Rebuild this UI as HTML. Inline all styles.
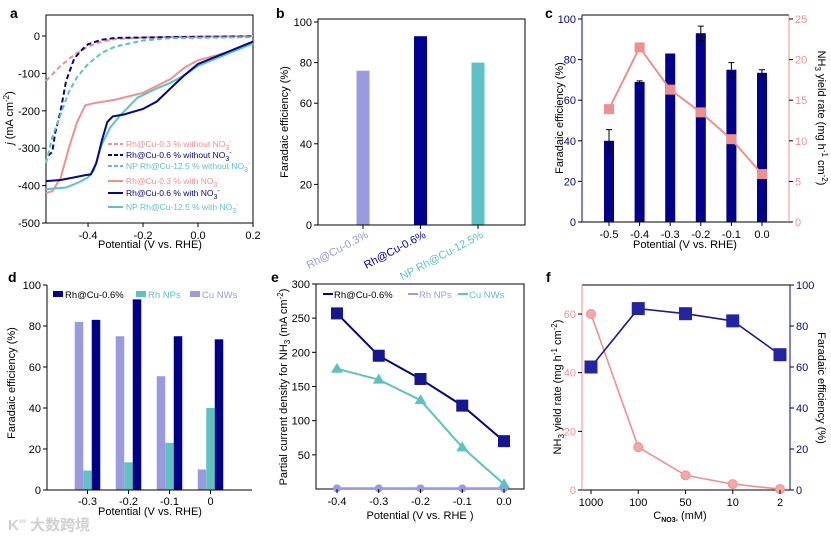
<!DOCTYPE html>
<html><head><meta charset="utf-8">
<style>
html,body{margin:0;padding:0;background:#fff;}
svg{display:block;font-family:"Liberation Sans","Noto Sans CJK SC",sans-serif;}
</style></head>
<body>
<svg id="fig" width="831" height="542" viewBox="0 0 831 542" xmlns="http://www.w3.org/2000/svg"></svg>
<script>
// ---------- data ----------
// panel a (LSV curves): potential (V) and current density (mA cm-2)
const aPinkDashV=[-0.553,-0.5,-0.45,-0.4,-0.35,-0.3,-0.2,0,0.2];
const aPinkDashJ=[-120,-80,-50,-28,-15,-8,-4,-2,0];
const aNavyDashV=[-0.545,-0.53,-0.52,-0.5,-0.48,-0.45,-0.42,-0.4,-0.35,-0.3,0,0.2];
const aNavyDashJ=[-320,-310,-260,-200,-120,-60,-35,-22,-10,-5,-2,-1];
const aTealDashV=[-0.553,-0.53,-0.5,-0.47,-0.44,-0.4,-0.35,-0.3,-0.2,-0.1,0.2];
const aTealDashJ=[-340,-270,-210,-150,-110,-75,-45,-28,-12,-6,-3];
const aPinkV=[-0.553,-0.53,-0.5,-0.47,-0.44,-0.41,-0.38,-0.3,-0.2,-0.1,-0.05,0,0.1,0.2];
const aPinkJ=[-420,-415,-380,-300,-230,-185,-180,-170,-152,-115,-85,-65,-45,-20];
const aNavyV=[-0.553,-0.5,-0.45,-0.41,-0.39,-0.37,-0.35,-0.33,-0.31,-0.27,-0.2,-0.15,-0.1,-0.05,0,0.1,0.2];
const aNavyJ=[-388,-385,-378,-372,-370,-340,-280,-230,-215,-210,-195,-175,-140,-105,-75,-45,-15];
const aTealV=[-0.553,-0.48,-0.43,-0.4,-0.38,-0.35,-0.32,-0.28,-0.22,-0.15,-0.1,-0.05,0,0.1,0.2];
const aTealJ=[-410,-405,-390,-378,-360,-290,-245,-210,-165,-140,-125,-105,-80,-50,-20];
const aXTicks=[-0.4,-0.2,0.0,0.2];
const aXLabels=["-0.4","-0.2","0.0","0.2"];
const aYTicks=[0,-100,-200,-300,-400,-500];
// panel b
const bCats=["Rh@Cu-0.3%","Rh@Cu-0.6%","NP Rh@Cu-12.5%"];
const bFE=[76,93,80];
// panel c
const cPot=[-0.5,-0.4,-0.3,-0.2,-0.1,0.0];
const cPotLabels=["-0.5","-0.4","-0.3","-0.2","-0.1","0.0"];
const cFE=[40,69,83,93,75,73.5];
const cFEErr=[5.5,0.5,0,3.5,3.5,1.5];
const cYield=[13.9,21.5,16.3,13.5,10.2,5.9];
// panel d
const dPot=["-0.3","-0.2","-0.1","0"];
const dCuNW=[82,75,55.5,10];
const dRhNP=[9.5,13.5,23,40];
const dRhCu=[83,93,75,73.5];
// panel e
const ePot=[-0.4,-0.3,-0.2,-0.1,0.0];
const ePotLabels=["-0.4","-0.3","-0.2","-0.1","0.0"];
const eRhCu=[257,195,161,122,70];
const eRhNP=[1,1,1,1,1];
const eCuNW=[176,160,130,61,7];
// panel f
const fConc=["1000","100","50","10","2"];
const fYield=[60,14.6,5,2,0.3];
const fFE=[60,88.5,86,82.5,66];

// ---------- helpers ----------
const NS='http://www.w3.org/2000/svg';
const svg=document.getElementById('fig');
const NAVY='#08087e',PINK='#ee9090',TEAL='#5ec2c2',LAV='#9a9ade';
function mk(tag,a,parent){const e=document.createElementNS(NS,tag);for(const k in a)e.setAttribute(k,a[k]);(parent||svg).appendChild(e);return e;}
function txt(x,y,s,a,parent){const e=mk('text',Object.assign({x:x,y:y,'font-size':11},a||{}),parent);e.innerHTML=s;return e;}
function lin(d0,d1,r0,r1){return v=>r0+(v-d0)/(d1-d0)*(r1-r0);}
function frame(g,L,T,R,B){const r=mk('rect',{x:L,y:T,width:R-L,height:B-T,fill:'none',stroke:'#000','stroke-width':1},g);}
function yTicks(g,x,sy,vals,labels,color,side){
  vals.forEach((v,i)=>{const y=sy(v);
    const t=mk('line',{x1:x,x2:x+(side<0?-4:4),y1:y,y2:y,stroke:'#000'},g);
    
    const l=txt(x+(side<0?-6:6),y+4,labels[i],{'text-anchor':side<0?'end':'start',fill:color},g);
    });
}
function xTicks(g,y,sx,vals,labels){
  vals.forEach((v,i)=>{const x=sx(v);
    const t=mk('line',{x1:x,x2:x,y1:y,y2:y+4,stroke:'#000'},g);
    
    if(labels){const l=txt(x,y+16,labels[i],{'text-anchor':'middle'},g);
    }});
}
function title(g,x,y,s,rot,extra){const e=txt(x,y,s,Object.assign({'text-anchor':'middle'},extra||{}),g);if(rot)e.setAttribute('transform','rotate('+rot+' '+x+' '+y+')');return e;}
function path(g,xs,ys,sx,sy,a){let d='';xs.forEach((v,i)=>{d+=(i?'L':'M')+sx(v).toFixed(1)+' '+sy(ys[i]).toFixed(1);});return mk('path',Object.assign({d:d,fill:'none'},a),g);}
function panelLetter(x,y,s){const e=txt(x,y,s,{'font-size':14,'font-weight':'bold'});}

// ---------- panel a ----------
(function(){
  const g=mk('g',{});
  const L=46,R=253,T=15,B=223;
  const sx=lin(-0.553,0.2,L,R), sy=lin(0,-500,36,B);
  frame(g,L,T,R,B);
  const series=[[aPinkDashV,aPinkDashJ,PINK,true,'rh-cu-0.3-without'],[aNavyDashV,aNavyDashJ,NAVY,true,'rh-cu-0.6-without'],[aTealDashV,aTealDashJ,TEAL,true,'np-rh-cu-12.5-without'],
    [aPinkV,aPinkJ,PINK,false,'rh-cu-0.3-with'],[aTealV,aTealJ,TEAL,false,'np-rh-cu-12.5-with'],[aNavyV,aNavyJ,NAVY,false,'rh-cu-0.6-with']];
  series.forEach(s=>{const p=path(g,s[0],s[1],sx,sy,{stroke:s[2],'stroke-width':2,'stroke-dasharray':s[3]?'5,3':'none'});
    });
  yTicks(g,L,sy,aYTicks,aYTicks.map(String),'#000',-1);
  xTicks(g,B,sx,aXTicks,aXLabels);
  const xt=title(g,150,248,'Potential (V vs. RHE)');
  const yt=title(g,13,118,'<tspan font-style="italic">j</tspan> (mA cm<tspan dy="-4" font-size="8">-2</tspan><tspan dy="4">)</tspan>',-90);
  const leg=[['Rh@Cu-0.3 % without NO<tspan dy="3" font-size="7">3</tspan><tspan dy="-6" font-size="7">-</tspan>',PINK,true],['Rh@Cu-0.6 % without NO<tspan dy="3" font-size="7">3</tspan><tspan dy="-6" font-size="7">-</tspan>',NAVY,true],['NP Rh@Cu-12.5 % without NO<tspan dy="3" font-size="7">3</tspan><tspan dy="-6" font-size="7">-</tspan>',TEAL,true],
    ['Rh@Cu-0.3 % with NO<tspan dy="3" font-size="7">3</tspan><tspan dy="-6" font-size="7">-</tspan>',PINK,false],['Rh@Cu-0.6 % with NO<tspan dy="3" font-size="7">3</tspan><tspan dy="-6" font-size="7">-</tspan>',NAVY,false],['NP Rh@Cu-12.5 % with NO<tspan dy="3" font-size="7">3</tspan><tspan dy="-6" font-size="7">-</tspan>',TEAL,false]];
  const ly=[144,155,166,181,193,207];
  leg.forEach((e,i)=>{const l=mk('line',{x1:108,x2:123,y1:ly[i],y2:ly[i],stroke:e[1],'stroke-width':2,'stroke-dasharray':e[2]?'4,2':'none'},g);
    
    const t=txt(126,ly[i]+3,e[0],{'font-size':8.5,fill:e[1]},g);});
})();
panelLetter(10,18,'a');

// ---------- panel b ----------
(function(){
  const g=mk('g',{});
  const L=318,R=525,T=19,B=225;
  const sy=lin(0,100,B,22);
  const sx=i=>363+i*57.5;
  const cols=[LAV,'#000090',TEAL];
  bFE.forEach((v,i)=>{const r=mk('rect',{x:sx(i)-6.5,y:sy(v),width:13,height:B-sy(v),fill:cols[i]},g);});
  frame(g,L,T,R,B);
  const yv=[0,20,40,60,80,100];yTicks(g,L,sy,yv,yv.map(String),'#000',-1);
  bCats.forEach((c,i)=>{const x=sx(i);const t=mk('line',{x1:x,x2:x,y1:B,y2:B+4,stroke:'#000'},g);
    const l=txt(x+6,237,c,{'text-anchor':'end',fill:cols[i],transform:'rotate(-28 '+(x+6)+' 237)'},g);});
  const yt=title(g,288,122,'Faradaic efficiency (%)',-90);
})();
panelLetter(276,18,'b');

// ---------- panel c ----------
(function(){
  const g=mk('g',{});
  const L=582,R=789,T=15,B=222;
  const sx=lin(-0.5,0,609,762), sy=lin(0,100,B,19), sy2=lin(0,25,B,19);
  cPot.forEach((p,i)=>{const x=sx(p);const r=mk('rect',{x:x-5,y:sy(cFE[i]),width:10,height:B-sy(cFE[i]),fill:'#000088'},g);
    if(cFEErr[i]>0){const e=mk('path',{d:'M'+x+' '+sy(cFE[i]-cFEErr[i])+'V'+sy(cFE[i]+cFEErr[i])+'M'+(x-3)+' '+sy(cFE[i]+cFEErr[i])+'H'+(x+3)+'M'+(x-3)+' '+sy(cFE[i]-cFEErr[i])+'H'+(x+3),stroke:'#000',fill:'none'},g);}});
  const ln=path(g,cPot,cYield,sx,sy2,{stroke:PINK,'stroke-width':2});
  cPot.forEach((p,i)=>{const m=mk('rect',{x:sx(p)-5,y:sy2(cYield[i])-5,width:10,height:10,fill:PINK},g);});
  mk('line',{x1:L,x2:R,y1:T,y2:T,stroke:'#000'},g);mk('line',{x1:L,x2:R,y1:B,y2:B,stroke:'#000'},g);
  mk('line',{x1:L,x2:L,y1:T,y2:B,stroke:NAVY},g);mk('line',{x1:R,x2:R,y1:T,y2:B,stroke:PINK},g);
  const yv=[0,20,40,60,80,100];yTicks(g,L,sy,yv,yv.map(String),NAVY,-1);
  const yv2=[0,5,10,15,20,25];yTicks(g,R,sy2,yv2,yv2.map(String),PINK,1);
  xTicks(g,B,sx,cPot,cPotLabels);
  const xt=title(g,685,248,'Potential (V vs. RHE)');
  const yt=title(g,563,118,'Faradaic efficiency (%)',-90);
  const yt2=title(g,818,118,'NH<tspan dy="3" font-size="8">3</tspan><tspan dy="-3"> yield rate (mg h</tspan><tspan dy="-4" font-size="8">-1</tspan><tspan dy="4"> cm</tspan><tspan dy="-4" font-size="8">-2</tspan><tspan dy="4">)</tspan>',90);
})();
panelLetter(545,18,'c');

// ---------- panel d ----------
(function(){
  const g=mk('g',{});
  const L=47,R=252,T=285,B=490;
  const sy=lin(0,100,B,T);
  const sx=i=>87.5+i*41;
  const sets=[[dCuNW,LAV,-8.5,'cu-nws'],[dRhNP,TEAL,0,'rh-nps'],[dRhCu,'#000088',8.5,'rh-cu-0.6']];
  dPot.forEach((p,i)=>{sets.forEach(s=>{const v=s[0][i];const r=mk('rect',{x:sx(i)+s[2]-4.25,y:sy(v),width:8.5,height:B-sy(v),fill:s[1]},g);});});
  mk('line',{x1:L,x2:R,y1:B,y2:B,stroke:'#000'},g);mk('line',{x1:L,x2:L,y1:T,y2:B,stroke:'#000'},g);
  const yv=[0,20,40,60,80,100];yTicks(g,L,sy,yv,yv.map(String),'#000',-1);
  dPot.forEach((p,i)=>{const x=sx(i);mk('line',{x1:x,x2:x,y1:B,y2:B+4,stroke:'#000'},g);const l=txt(x,B+15,p,{'text-anchor':'middle'},g);});
  const xt=title(g,150,515,'Potential (V vs. RHE)');
  const yt=title(g,15,383,'Faradaic efficiency (%)',-90);
  const lg=[['Rh@Cu-0.6%','#000088',53],['Rh NPs',TEAL,136],['Cu NWs',LAV,190]];
  lg.forEach(e=>{const r=mk('rect',{x:e[2],y:291,width:10,height:6,fill:e[1]},g);
    const t=txt(e[2]+12,298,e[0],{'font-size':9.5,fill:e[1]==='#000088'?'#000':e[1]},g);});
})();
panelLetter(8,282,'d');

// ---------- panel e ----------
(function(){
  const g=mk('g',{});
  const L=316,R=524,T=284,B=489;
  const sx=lin(-0.4,0,337,504), sy=lin(0,300,B,T);
  frame(g,L,T,R,B);
  const l3=path(g,ePot,eRhNP,sx,sy,{stroke:LAV,'stroke-width':2});
  ePot.forEach((p,i)=>{const m=mk('circle',{cx:sx(p),cy:sy(eRhNP[i]),r:4,fill:LAV},g);});
  const l2=path(g,ePot,eCuNW,sx,sy,{stroke:TEAL,'stroke-width':2});
  ePot.forEach((p,i)=>{const x=sx(p),y=sy(eCuNW[i]);const m=mk('path',{d:'M'+x+' '+(y-6)+'L'+(x+6)+' '+(y+4)+'L'+(x-6)+' '+(y+4)+'Z',fill:TEAL},g);});
  const l1=path(g,ePot,eRhCu,sx,sy,{stroke:NAVY,'stroke-width':2});
  ePot.forEach((p,i)=>{const m=mk('rect',{x:sx(p)-6,y:sy(eRhCu[i])-6,width:12,height:12,fill:'#16168e'},g);});
  const yv=[50,100,150,200,250,300];yTicks(g,L,sy,yv,yv.map(String),'#000',-1);
  xTicks(g,B,sx,ePot,ePotLabels);
  const xt=title(g,420,519,'Potential (V vs. RHE )');
  const yt=title(g,287,387,'Partial current density for NH<tspan dy="3" font-size="8">3</tspan><tspan dy="-3"> (mA cm</tspan><tspan dy="-4" font-size="8">-2</tspan><tspan dy="4">)</tspan>',-90);
  const lg=[['Rh@Cu-0.6%',NAVY,323,'#000'],['Rh NPs',LAV,408,LAV],['Cu NWs',TEAL,458,TEAL]];
  lg.forEach(e=>{const l=mk('line',{x1:e[2],x2:e[2]+10,y1:294,y2:294,stroke:e[1],'stroke-width':2},g);
    const t=txt(e[2]+11,298,e[0],{'font-size':9.5,fill:e[3]},g);});
})();
panelLetter(271,282,'e');

// ---------- panel f ----------
(function(){
  const g=mk('g',{});
  const L=582,R=790,T=285,B=490;
  const sx=i=>591+i*47.25, sy=lin(0,60,B,314), sy2=lin(0,100,B,T);
  mk('line',{x1:L,x2:R,y1:T,y2:T,stroke:'#000'},g);mk('line',{x1:L,x2:R,y1:B,y2:B,stroke:'#000'},g);
  mk('line',{x1:L,x2:L,y1:T,y2:B,stroke:PINK},g);mk('line',{x1:R,x2:R,y1:T,y2:B,stroke:NAVY},g);
  const idx=fConc.map((c,i)=>i);
  const l1=path(g,idx,fYield,sx,sy,{stroke:PINK,'stroke-width':1.6});
  idx.forEach(i=>{const m=mk('circle',{cx:sx(i),cy:sy(fYield[i]),r:4.5,fill:'#f4a8a8',stroke:PINK},g);});
  const l2=path(g,idx,fFE,sx,sy2,{stroke:'#1c1c8c','stroke-width':1.6});
  idx.forEach(i=>{const m=mk('rect',{x:sx(i)-6.5,y:sy2(fFE[i])-6.5,width:13,height:13,fill:'#2424a0'},g);});
  const yv=[0,20,40,60];yTicks(g,L,sy,yv,yv.map(String),PINK,-1);
  const yv2=[0,20,40,60,80,100];yTicks(g,R,sy2,yv2,yv2.map(String),NAVY,1);
  fConc.forEach((c,i)=>{const x=sx(i);mk('line',{x1:x,x2:x,y1:B,y2:B+4,stroke:'#000'},g);const l=txt(x,B+16,c,{'text-anchor':'middle'},g);});
  const xt=title(g,680,519,'C<tspan dy="3" font-size="7" font-weight="bold">NO3-</tspan><tspan dy="-3"> (mM)</tspan>');
  const yt=title(g,561,387,'NH<tspan dy="3" font-size="8">3</tspan><tspan dy="-3"> yield rate (mg h</tspan><tspan dy="-4" font-size="8">-1</tspan><tspan dy="4"> cm</tspan><tspan dy="-4" font-size="8">-2</tspan><tspan dy="4">)</tspan>',-90);
  const yt2=title(g,818,388,'Faradaic efficiency (%)',90);
})();
panelLetter(546,282,'f');

// watermark
const wm=txt(8,530,'K<tspan font-size="10" dy="-6">∞</tspan><tspan dy="6"> 大数跨境</tspan>',{'font-size':15,fill:'#d0d0d0','font-weight':'bold'});


</script>
</body></html>
